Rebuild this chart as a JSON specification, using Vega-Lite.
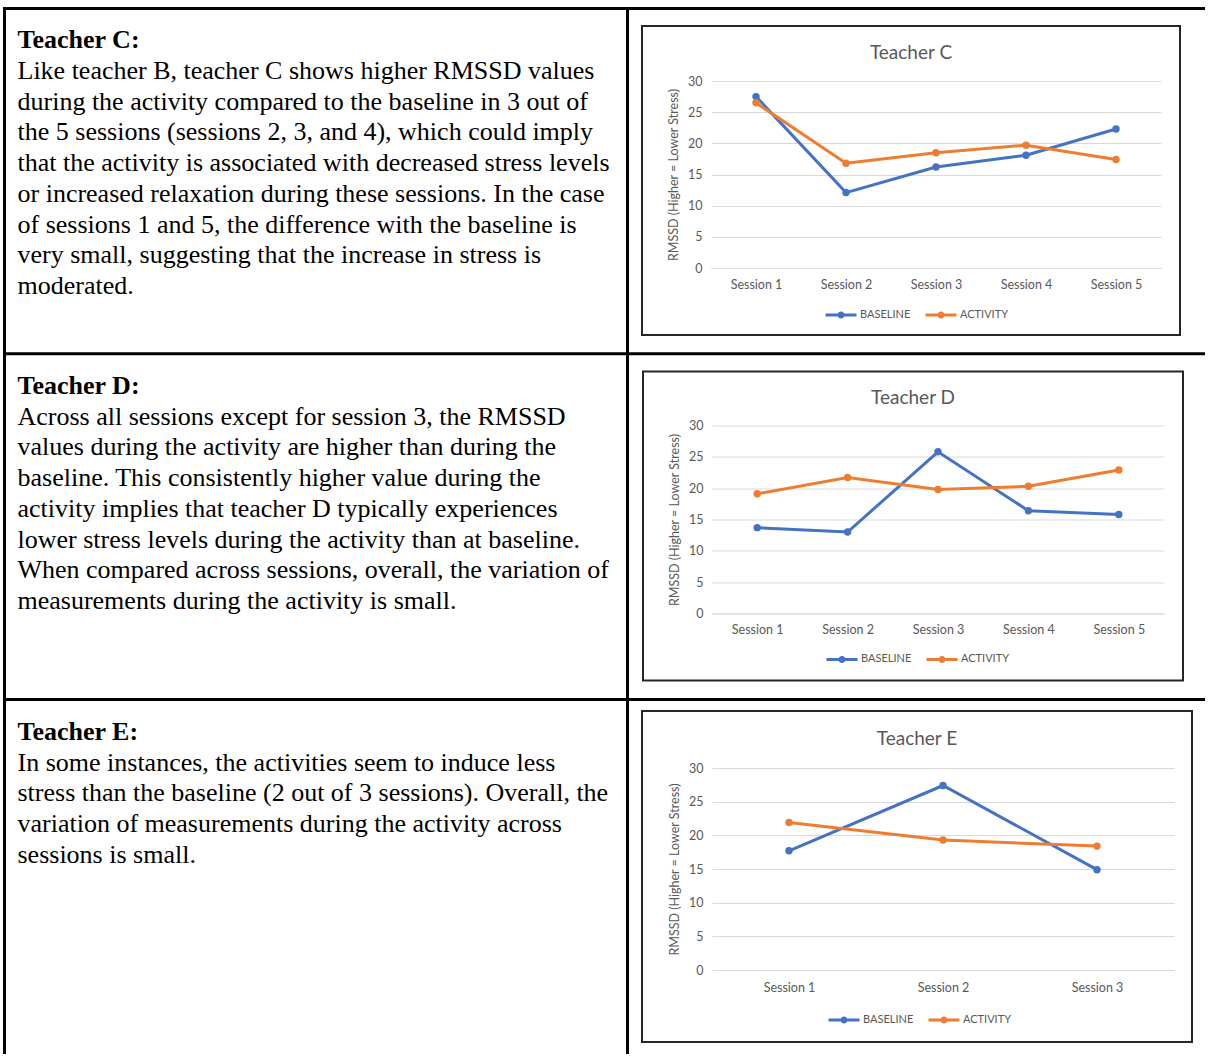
{
  "$schema": "https://vega.github.io/schema/vega-lite/v6.json",
  "background": "white",
  "padding": {"left": 4, "top": 8, "right": 0, "bottom": 0},
  "spacing": 0,
  "resolve": {"scale": {"color": "independent"}, "legend": {"color": "independent"}},
  "config": {
    "view": {"stroke": null},
    "axis": {"labelFont": "Lato", "labelFontSize": 12.5, "labelColor": "#595959", "titleFont": "Lato", "titleFontSize": 12.5, "titleColor": "#595959", "titleFontWeight": "normal", "ticks": false},
    "legend": {"labelFont": "Lato", "labelFontSize": 11, "labelColor": "#595959"},
    "title": {"font": "Lato", "fontSize": 19, "fontWeight": "normal", "color": "#595959"}
  },
  "vconcat": [
    {
      "spacing": 15,
      "center": true,
      "bounds": "flush",
      "resolve": {"scale": {"color": "independent"}, "legend": {"color": "independent"}},
      "hconcat": [
        {
          "width": 622.5, "height": 345,
          "data": {"values": [{}]},
          "mark": {"type": "point", "opacity": 0},
          "encoding": {"x": {"datum": 0.5, "type": "quantitative", "scale": {"domain": [0, 1], "range": [0, 1201]}, "axis": {"orient": "top", "values": [0, 0.51832], "grid": true, "gridColor": "black", "gridWidth": 3, "gridOpacity": 1, "gridCap": "square", "domain": true, "domainColor": "black", "domainWidth": 3, "domainCap": "square", "labels": false, "title": null}}},
          "title": {"text": "Teacher C:", "subtitle": ["Like teacher B, teacher C shows higher RMSSD values", "during the activity compared to the baseline in 3 out of", "the 5 sessions (sessions 2, 3, and 4), which could imply", "that the activity is associated with decreased stress levels", "or increased relaxation during these sessions. In the case", "of sessions 1 and 5, the difference with the baseline is", "very small, suggesting that the increase in stress is", "moderated."], "anchor": "start", "frame": "group", "orient": "top", "offset": -291, "dx": 13.5, "font": "Liberation Serif", "fontSize": 26, "fontWeight": "bold", "color": "black", "subtitleFont": "Liberation Serif", "subtitleFontSize": 26, "subtitleColor": "black", "subtitleLineHeight": 30.7, "subtitlePadding": 5, "subtitleFontWeight": "normal"}
        },
        {
          "width": 538, "height": 309,
          "view": {"stroke": "#262626", "strokeWidth": 2},
          "title": {"text": "Teacher C", "anchor": "middle", "frame": "group", "offset": -37},
          "data": {"values": [
            {"session": "Session 1", "series": "BASELINE", "value": 27.5},
            {"session": "Session 2", "series": "BASELINE", "value": 12.1},
            {"session": "Session 3", "series": "BASELINE", "value": 16.2},
            {"session": "Session 4", "series": "BASELINE", "value": 18.1},
            {"session": "Session 5", "series": "BASELINE", "value": 22.3},
            {"session": "Session 1", "series": "ACTIVITY", "value": 26.5},
            {"session": "Session 2", "series": "ACTIVITY", "value": 16.8},
            {"session": "Session 3", "series": "ACTIVITY", "value": 18.5},
            {"session": "Session 4", "series": "ACTIVITY", "value": 19.7},
            {"session": "Session 5", "series": "ACTIVITY", "value": 17.4}
          ]},
          "mark": {"type": "line", "strokeWidth": 3, "point": {"filled": true, "size": 55}},
          "encoding": {
            "x": {"field": "session", "type": "ordinal", "scale": {"type": "point", "padding": 0.5, "range": [69, 519]}, "axis": {"orient": "bottom", "offset": -67, "title": null, "labelAngle": 0, "labelPadding": 10, "domainColor": "#D9D9D9", "domainWidth": 1, "grid": false}},
            "y": {"field": "value", "type": "quantitative", "scale": {"domain": [0, 30], "range": [242, 55], "nice": false}, "axis": {"orient": "left", "offset": -69, "values": [0, 5, 10, 15, 20, 25, 30], "title": "RMSSD (Higher = Lower Stress)", "titlePadding": 7, "labelPadding": 9, "domain": false, "grid": true, "gridColor": "#D9D9D9", "gridWidth": 1}},
            "color": {"field": "series", "type": "nominal", "scale": {"domain": ["BASELINE", "ACTIVITY"], "range": ["#4472C4", "#ED7D31"]}, "legend": {"title": null, "orient": "none", "legendX": 182, "legendY": 271.5, "direction": "horizontal", "symbolType": "M-1,0L1,0M-0.13,0A0.13,0.13 0 1,0 0.13,0A0.13,0.13 0 1,0 -0.13,0", "symbolSize": 961, "symbolStrokeWidth": 3, "labelOffset": 2, "columnPadding": 8}}
          }
        }
      ]
    },
    {
      "spacing": 16,
      "center": true,
      "bounds": "flush",
      "resolve": {"scale": {"color": "independent"}, "legend": {"color": "independent"}},
      "hconcat": [
        {
          "width": 622.5, "height": 345.5,
          "data": {"values": [{}]},
          "mark": {"type": "point", "opacity": 0},
          "encoding": {"x": {"datum": 0.5, "type": "quantitative", "scale": {"domain": [0, 1], "range": [0, 1201]}, "axis": {"orient": "top", "values": [0, 0.51832], "grid": true, "gridColor": "black", "gridWidth": 3, "gridOpacity": 1, "gridCap": "square", "domain": true, "domainColor": "black", "domainWidth": 3, "domainCap": "square", "labels": false, "title": null}}},
          "title": {"text": "Teacher D:", "subtitle": ["Across all sessions except for session 3, the RMSSD", "values during the activity are higher than during the", "baseline. This consistently higher value during the", "activity implies that teacher D typically experiences", "lower stress levels during the activity than at baseline.", "When compared across sessions, overall, the variation of", "measurements during the activity is small."], "anchor": "start", "frame": "group", "orient": "top", "offset": -260.7, "dx": 13.5, "font": "Liberation Serif", "fontSize": 26, "fontWeight": "bold", "color": "black", "subtitleFont": "Liberation Serif", "subtitleFontSize": 26, "subtitleColor": "black", "subtitleLineHeight": 30.7, "subtitlePadding": 5, "subtitleFontWeight": "normal"}
        },
        {
          "width": 540, "height": 309,
          "view": {"stroke": "#262626", "strokeWidth": 2},
          "title": {"text": "Teacher D", "anchor": "middle", "frame": "group", "offset": -36},
          "data": {"values": [
            {"session": "Session 1", "series": "BASELINE", "value": 13.7},
            {"session": "Session 2", "series": "BASELINE", "value": 13.0},
            {"session": "Session 3", "series": "BASELINE", "value": 25.8},
            {"session": "Session 4", "series": "BASELINE", "value": 16.4},
            {"session": "Session 5", "series": "BASELINE", "value": 15.8},
            {"session": "Session 1", "series": "ACTIVITY", "value": 19.1},
            {"session": "Session 2", "series": "ACTIVITY", "value": 21.7},
            {"session": "Session 3", "series": "ACTIVITY", "value": 19.8},
            {"session": "Session 4", "series": "ACTIVITY", "value": 20.3},
            {"session": "Session 5", "series": "ACTIVITY", "value": 22.9}
          ]},
          "mark": {"type": "line", "strokeWidth": 3, "point": {"filled": true, "size": 55}},
          "encoding": {
            "x": {"field": "session", "type": "ordinal", "scale": {"type": "point", "padding": 0.5, "range": [69, 521]}, "axis": {"orient": "bottom", "offset": -67, "title": null, "labelAngle": 0, "labelPadding": 10, "domainColor": "#D9D9D9", "domainWidth": 1, "grid": false}},
            "y": {"field": "value", "type": "quantitative", "scale": {"domain": [0, 30], "range": [242, 54], "nice": false}, "axis": {"orient": "left", "offset": -69, "values": [0, 5, 10, 15, 20, 25, 30], "title": "RMSSD (Higher = Lower Stress)", "titlePadding": 7, "labelPadding": 9, "domain": false, "grid": true, "gridColor": "#D9D9D9", "gridWidth": 1}},
            "color": {"field": "series", "type": "nominal", "scale": {"domain": ["BASELINE", "ACTIVITY"], "range": ["#4472C4", "#ED7D31"]}, "legend": {"title": null, "orient": "none", "legendX": 182, "legendY": 270.5, "direction": "horizontal", "symbolType": "M-1,0L1,0M-0.13,0A0.13,0.13 0 1,0 0.13,0A0.13,0.13 0 1,0 -0.13,0", "symbolSize": 961, "symbolStrokeWidth": 3, "labelOffset": 2, "columnPadding": 8}}
          }
        }
      ]
    },
    {
      "spacing": 15,
      "center": true,
      "bounds": "flush",
      "resolve": {"scale": {"color": "independent"}, "legend": {"color": "independent"}},
      "hconcat": [
        {
          "width": 622.5, "height": 355,
          "data": {"values": [{}]},
          "mark": {"type": "point", "opacity": 0},
          "encoding": {"x": {"datum": 0.5, "type": "quantitative", "scale": {"domain": [0, 1], "range": [0, 1201]}, "axis": {"orient": "top", "values": [0, 0.51832], "grid": true, "gridColor": "black", "gridWidth": 3, "gridOpacity": 1, "gridCap": "square", "domain": true, "domainColor": "black", "domainWidth": 3, "domainCap": "square", "labels": false, "title": null}}},
          "title": {"text": "Teacher E:", "subtitle": ["In some instances, the activities seem to induce less", "stress than the baseline (2 out of 3 sessions). Overall, the", "variation of measurements during the activity across", "sessions is small."], "anchor": "start", "frame": "group", "orient": "top", "offset": -168.6, "dx": 13.5, "font": "Liberation Serif", "fontSize": 26, "fontWeight": "bold", "color": "black", "subtitleFont": "Liberation Serif", "subtitleFontSize": 26, "subtitleColor": "black", "subtitleLineHeight": 30.7, "subtitlePadding": 5, "subtitleFontWeight": "normal"}
        },
        {
          "width": 550, "height": 331,
          "view": {"stroke": "#262626", "strokeWidth": 2},
          "title": {"text": "Teacher E", "anchor": "middle", "frame": "group", "offset": -38},
          "data": {"values": [
            {"session": "Session 1", "series": "BASELINE", "value": 17.7},
            {"session": "Session 2", "series": "BASELINE", "value": 27.4},
            {"session": "Session 3", "series": "BASELINE", "value": 14.9},
            {"session": "Session 1", "series": "ACTIVITY", "value": 21.9},
            {"session": "Session 2", "series": "ACTIVITY", "value": 19.3},
            {"session": "Session 3", "series": "ACTIVITY", "value": 18.4}
          ]},
          "mark": {"type": "line", "strokeWidth": 3, "point": {"filled": true, "size": 55}},
          "encoding": {
            "x": {"field": "session", "type": "ordinal", "scale": {"type": "point", "padding": 0.5, "range": [70, 532]}, "axis": {"orient": "bottom", "offset": -72, "title": null, "labelAngle": 0, "labelPadding": 11, "domainColor": "#D9D9D9", "domainWidth": 1, "grid": false}},
            "y": {"field": "value", "type": "quantitative", "scale": {"domain": [0, 30], "range": [259, 57], "nice": false}, "axis": {"orient": "left", "offset": -70, "values": [0, 5, 10, 15, 20, 25, 30], "title": "RMSSD (Higher = Lower Stress)", "titlePadding": 7, "labelPadding": 9, "domain": false, "grid": true, "gridColor": "#D9D9D9", "gridWidth": 1}},
            "color": {"field": "series", "type": "nominal", "scale": {"domain": ["BASELINE", "ACTIVITY"], "range": ["#4472C4", "#ED7D31"]}, "legend": {"title": null, "orient": "none", "legendX": 185, "legendY": 291.5, "direction": "horizontal", "symbolType": "M-1,0L1,0M-0.13,0A0.13,0.13 0 1,0 0.13,0A0.13,0.13 0 1,0 -0.13,0", "symbolSize": 961, "symbolStrokeWidth": 3, "labelOffset": 2, "columnPadding": 8}}
          }
        }
      ]
    }
  ]
}
